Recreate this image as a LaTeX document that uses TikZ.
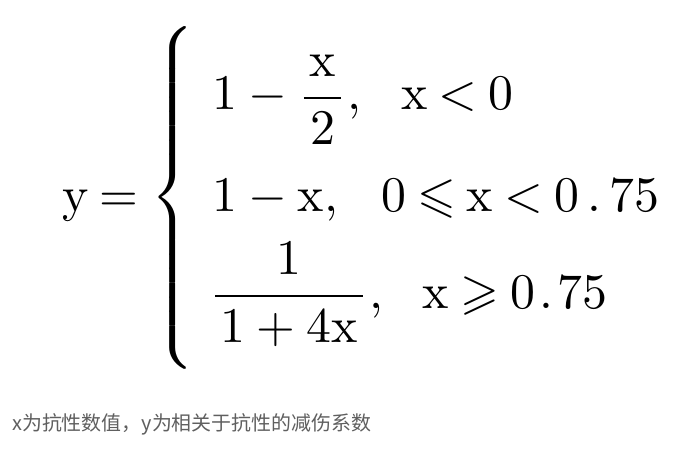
\documentclass[tikz,border=0pt]{standalone}
\usepackage{fontspec}
\usepackage{amssymb}
\usepackage{graphicx}
\newfontfamily\cjk{Noto Sans CJK SC}
\definecolor{captiongray}{RGB}{95,95,95}
\newcommand{\bigmath}[1]{\scalebox{5}{\fontsize{10}{12}\selectfont$\thickmuskip=4mu #1$}}
\tikzset{
  mathtext/.style={inner sep=0pt, anchor=base west},
  captiontext/.style={inner sep=0pt, anchor=base west, text=captiongray, font=\cjk\fontsize{20}{24}\selectfont}
}
\begin{document}
\begin{tikzpicture}[x=1bp,y=1bp]
\fill[white] (0,0) rectangle (677,455);
\useasboundingbox (0,0) rectangle (677,455);
\node[mathtext] (lhs) at (62,243) {\bigmath{\mathrm{y}=}};
\node[inner sep=0pt, anchor=west] (brace) at (150,257.5)
  {\scalebox{5}[4.78]{\fontsize{10}{12}\selectfont$\delimiterfactor=1000 \delimitershortfall=0pt \left\{\vcenter{\hrule height 68.2bp width 0pt}\right.$}};
\node[mathtext] (row1) at (212,345)
  {\bigmath{\displaystyle 1-{\frac{\mkern2mu\mathrm{x}\mkern2mu}{2}},\mkern11.4mu\mathrm{x}<0}};
\node[mathtext] (row2) at (212,243)
  {\bigmath{1-\mathrm{x},\mkern12.5mu 0\leqslant\mathrm{x}<0\mkern3mu.\mkern3mu75}};
\node[mathtext] (row3) at (209,146.5)
  {\bigmath{\displaystyle {\frac{1}{\mkern2mu1+4\mathrm{x}\mkern2mu}},\mkern11.4mu\mathrm{x}\geqslant0\mkern1.5mu.\mkern1.5mu75}};
\node[captiontext] (cap) at (12,24) {x为抗性数值，y为相关于抗性的减伤系数};
\end{tikzpicture}
\end{document}
